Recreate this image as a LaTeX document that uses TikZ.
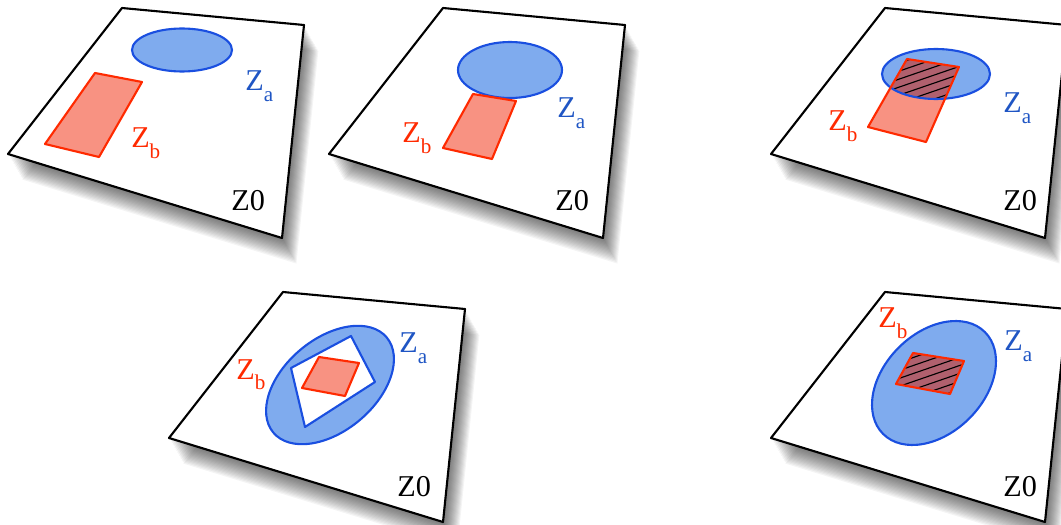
\documentclass[tikz,border=0pt]{standalone}
\usepackage{fontspec}
\setmainfont{Liberation Serif}
\definecolor{zaline}{HTML}{1A4FE0}
\definecolor{zafill}{HTML}{7FABEE}
\definecolor{zatext}{HTML}{1F55C4}
\definecolor{zbline}{HTML}{FF2A00}
\definecolor{zbfill}{HTML}{F89282}
\definecolor{zmeet}{HTML}{B0606E}
\newcommand{\zsub}[1]{Z\raisebox{-7.5pt}{\fontsize{15}{15}\selectfont #1}}
\begin{document}
\begin{tikzpicture}[x=0.025cm,y=-0.025cm,line join=round,
  sheet/.style={draw=black,fill=white,line width=1.5pt},
  zaarea/.style={draw=zaline,fill=zafill,line width=1.5pt},
  zbarea/.style={draw=zbline,fill=zbfill,line width=1.5pt},
  hatchline/.style={black,line width=0.8pt},
  lbl/.style={anchor=base west,inner sep=0pt,font=\fontsize{21.5}{24}\selectfont}]
  \useasboundingbox (0,0) rectangle (1061,525);
  % sheets with soft shadow
  \foreach \px/\py in {122/8,443/8,885/8,283/292,885/292}{
    \foreach \k in {1,...,16}
      \fill[black,opacity=0.045] ({\px+0.9*\k},{\py+1.6*\k}) -- ++(182,17) -- ++(-22,213) -- ++(-274,-84) -- cycle;
    \draw[sheet] (\px,\py) -- ++(182,17) -- ++(-22,213) -- ++(-274,-84) -- cycle;
  }
  % first sheet
  \draw[zaarea] (182,50) ellipse [x radius=50, y radius=21.5];
  \draw[zbarea] (95,73) -- (142,82) -- (99,157) -- (45,144) -- cycle;
  \node[lbl,text=zatext] (za1) at (245,91) {\zsub{a}};
  \node[lbl,text=zbline] (zb1) at (131,148) {\zsub{b}};
  \node[lbl] (z01) at (231,211) {Z0};
  % second sheet
  \draw[zaarea] (510,70) ellipse [x radius=52, y radius=28];
  \draw[zbarea] (473,94) -- (516,101) -- (492,159) -- (443,148) -- cycle;
  \node[lbl,text=zatext] (za2) at (557,118) {\zsub{a}};
  \node[lbl,text=zbline] (zb2) at (402,143) {\zsub{b}};
  \node[lbl] (z02) at (555,211) {Z0};
  % third sheet
  \fill[zafill] (936,74) ellipse [x radius=54, y radius=25];
  \fill[zbfill] (907,59) -- (959,67) -- (926,142) -- (868,127) -- cycle;
  \begin{scope}
    \clip (936,74) ellipse [x radius=54, y radius=25];
    \clip (907,59) -- (959,67) -- (926,142) -- (868,127) -- cycle;
    \fill[zmeet] (860,40) rectangle (1000,150);
    \foreach \t in {0,...,22}
      \draw[hatchline] (850,{40+8*\t}) -- ++(160,-55);
  \end{scope}
  \draw[zaline,line width=1.5pt] (936,74) ellipse [x radius=54, y radius=25];
  \draw[zbline,line width=1.5pt] (907,59) -- (959,67) -- (926,142) -- (868,127) -- cycle;
  \node[lbl,text=zatext] (za3) at (1003,113) {\zsub{a}};
  \node[lbl,text=zbline] (zb3) at (828,131) {\zsub{b}};
  \node[lbl] (z03) at (1003,211) {Z0};
  % fourth sheet
  \draw[zaarea,rotate around={40:(330,385)}] (330,385) ellipse [x radius=74, y radius=46];
  \draw[zaline,fill=white,line width=1.5pt] (291,368) -- (351,336) -- (375,382) -- (305,427) -- cycle;
  \draw[zbarea] (319,357) -- (359,363) -- (345,396) -- (302,388) -- cycle;
  \node[lbl,text=zatext] (za4) at (399,353) {\zsub{a}};
  \node[lbl,text=zbline] (zb4) at (236,379) {\zsub{b}};
  \node[lbl] (z04) at (397,496) {Z0};
  % fifth sheet
  \draw[zaarea,rotate around={45:(934,383)}] (934,383) ellipse [x radius=72, y radius=50];
  \begin{scope}
    \clip (913,353) -- (964,361) -- (950,394) -- (896,384) -- cycle;
    \fill[zmeet] (890,345) rectangle (970,400);
    \foreach \t in {0,...,16}
      \draw[hatchline] (880,{345+8*\t}) -- ++(110,-38);
  \end{scope}
  \draw[zbline,line width=1.5pt] (913,353) -- (964,361) -- (950,394) -- (896,384) -- cycle;
  \node[lbl,text=zatext] (za5) at (1004,351) {\zsub{a}};
  \node[lbl,text=zbline] (zb5) at (878,328) {\zsub{b}};
  \node[lbl] (z05) at (1003,496) {Z0};
\end{tikzpicture}
\end{document}
